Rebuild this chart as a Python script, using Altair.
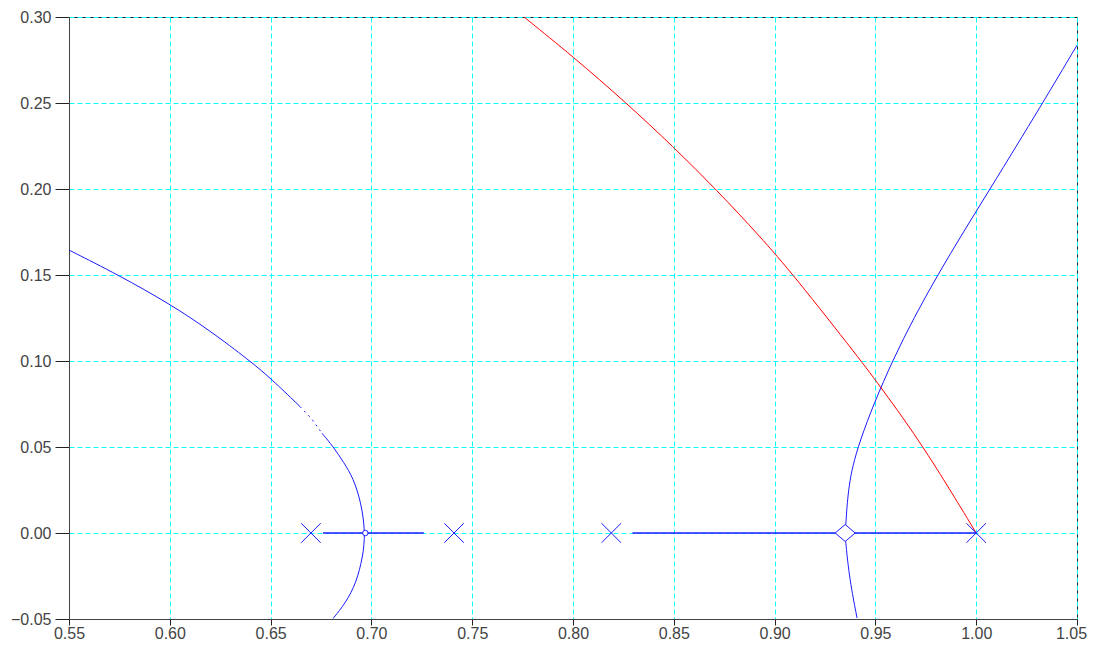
import altair as alt
import pandas as pd

# Root-locus branches
left_a_x = [0.550, 0.5745, 0.600, 0.620, 0.6398, 0.650, 0.6646]
left_a_y = [0.1645, 0.150, 0.1332, 0.1176, 0.100, 0.090, 0.0735]
left_gap_x = [0.6646, 0.6703, 0.6755]
left_gap_y = [0.0735, 0.0665, 0.058]
left_b_x = [0.6755, 0.681, 0.6863, 0.691, 0.6950, 0.697, 0.6958, 0.6925, 0.6872, 0.681]
left_b_y = [0.058, 0.0503, 0.041, 0.032, 0.0174, 0.0, -0.0137, -0.029, -0.0407, -0.0497]

right_x = [0.9409, 0.9372, 0.9352, 0.9350, 0.9355, 0.9366, 0.9407, 0.958, 0.9804, 1.0069, 1.0330, 1.050]
right_y = [-0.0494, -0.0271, -0.005, 0.0, 0.008, 0.0271, 0.0503, 0.1007, 0.150, 0.200, 0.250, 0.2836]

red_x = [0.7757, 0.800, 0.8266, 0.8497, 0.8712, 0.8928, 0.9094, 0.9425, 0.9524, 0.974, 1.0]
red_y = [0.300, 0.277, 0.2499, 0.2246, 0.1995, 0.1724, 0.150, 0.1007, 0.0852, 0.0503, 0.0]

seg1_x = [0.676, 0.726]
seg2_x = [0.8295, 1.0]
seg_y = [0.0, 0.0]

pole_x = [0.670, 0.741, 0.819, 1.0]
pole_y = [0.0, 0.0, 0.0, 0.0]
diamond_x = [0.935]
diamond_y = [0.0]
circle_x = [0.697]
circle_y = [0.0]

x_ticks = [0.55, 0.60, 0.65, 0.70, 0.75, 0.80, 0.85, 0.90, 0.95, 1.00, 1.05]
y_ticks = [-0.05, 0.00, 0.05, 0.10, 0.15, 0.20, 0.25, 0.30]


def series(name, xs, ys):
    return pd.DataFrame({"x": xs, "y": ys, "i": list(range(len(xs))), "s": [name] * len(xs)})


blue_df = pd.concat([series("left_a", left_a_x, left_a_y), series("left_b", left_b_x, left_b_y),
                     series("right", right_x, right_y)])
gap_df = series("gap", left_gap_x, left_gap_y)
seg_df = pd.concat([series("seg1", seg1_x, seg_y), series("seg2", seg2_x, seg_y)])
red_df = series("red", red_x, red_y)
pole_df = pd.DataFrame({"x": pole_x, "y": pole_y})
diamond_df = pd.DataFrame({"x": diamond_x, "y": diamond_y})
circle_df = pd.DataFrame({"x": circle_x, "y": circle_y})

xs = alt.Scale(domain=[0.55, 1.05], nice=False, zero=False)
ys = alt.Scale(domain=[-0.05, 0.30], nice=False, zero=False)

x_axis = alt.Axis(values=x_ticks, format=".2f", title=None, tickSize=6, labelPadding=0,
                  labelOffset={"condition": {"test": "datum.value > 1.049", "value": -6}, "value": 0})
y_axis = alt.Axis(values=y_ticks, format=".2f", title=None, tickSize=14, labelPadding=4)

X = alt.X("x:Q", scale=xs, axis=x_axis)
Y = alt.Y("y:Q", scale=ys, axis=y_axis)

blue = "#1a1aff"
blue_lines = alt.Chart(blue_df).mark_line(color=blue, strokeWidth=1, interpolate="basis", clip=True).encode(
    x=X, y=Y, detail="s:N", order="i:Q")
gap_line = alt.Chart(gap_df).mark_line(color=blue, strokeWidth=1, strokeDash=[2, 4], clip=True).encode(
    x=X, y=Y, order="i:Q")
seg_lines = alt.Chart(seg_df).mark_line(color=blue, strokeWidth=1.3, clip=True).encode(
    x=X, y=Y, detail="s:N", order="i:Q")
red_line = alt.Chart(red_df).mark_line(color="#ff0000", strokeWidth=1, interpolate="basis", clip=True).encode(
    x=X, y=Y, order="i:Q")
poles = alt.Chart(pole_df).mark_point(shape="M-1,-1L1,1M-1,1L1,-1", size=380, filled=False,
                                      color=blue, strokeWidth=1, opacity=1).encode(x=X, y=Y)
diamond = alt.Chart(diamond_df).mark_point(shape="M-1,0L0,-0.85L1,0L0,0.85Z", size=400, filled=False,
                                           color=blue, strokeWidth=1, opacity=1, fill="white", fillOpacity=1).encode(x=X, y=Y)
circle = alt.Chart(circle_df).mark_point(shape="circle", size=30, filled=False,
                                         color=blue, strokeWidth=1, opacity=1, fill="white", fillOpacity=1).encode(x=X, y=Y)

chart = alt.layer(blue_lines, gap_line, seg_lines, red_line, poles, diamond, circle).properties(
    width=1008, height=602,
    autosize=alt.AutoSizeParams(type="none"),
    padding={"left": 61, "top": 9, "right": 10, "bottom": 22},
    background="white",
).configure_view(stroke="#222", strokeWidth=1).configure_axis(
    grid=True, gridColor="#00ffff", gridDash=[5, 3], gridWidth=1, gridOpacity=1,
    tickColor="#222", domainColor="#444",
    labelFont="Liberation Sans", labelFontSize=16, labelColor="#444", labelFlush=False,
)

chart.save("out.html", embed_options={"renderer": "svg", "actions": False})
